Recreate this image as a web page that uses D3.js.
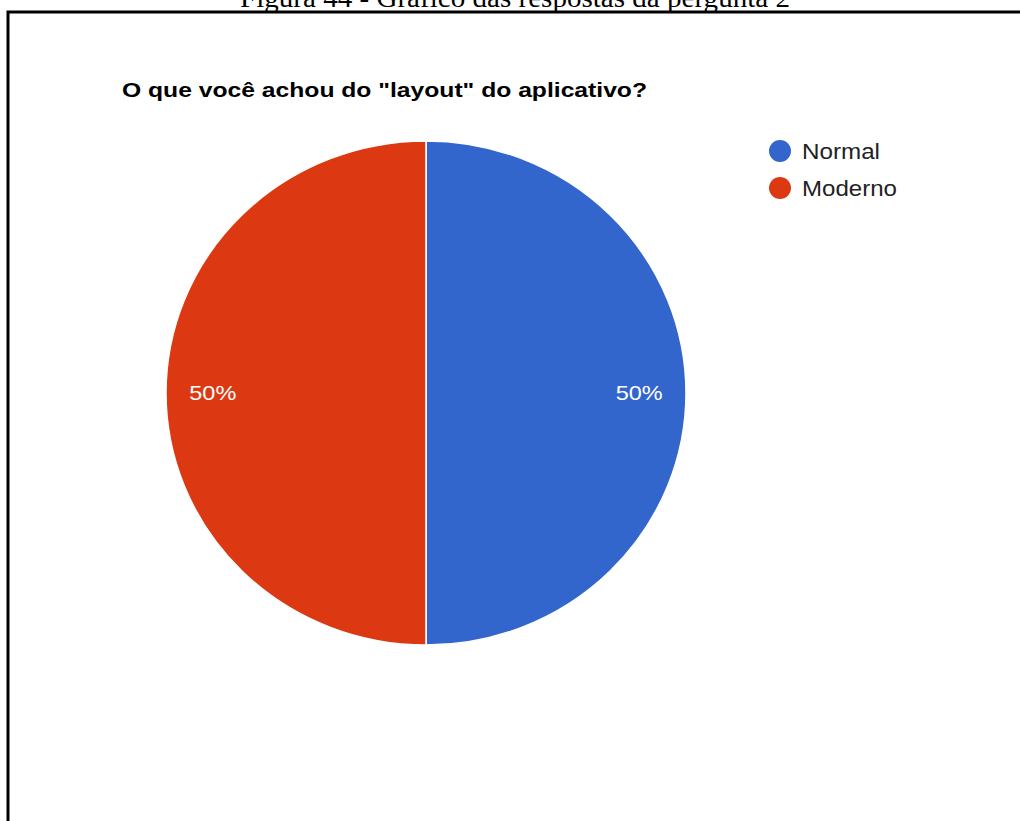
<!DOCTYPE html>
<html>
<head>
<meta charset="utf-8">
<script src="https://cdn.jsdelivr.net/npm/d3@7"></script>
<style>
  html, body { margin: 0; padding: 0; background: #fff; }
  svg { display: block; }
</style>
</head>
<body>
<svg id="chart" width="1020" height="821"></svg>
<script>
// Survey answers for question 2
const categories = ["Normal", "Moderno"];
const values = [50, 50];
const colors = ["#3366cc", "#dc3912"];
const legendWidths = [78, 95];
const caption = "Figura 44 - Gráfico das respostas da pergunta 2";
const title = "O que você achou do \"layout\" do aplicativo?";

const svg = d3.select("#chart");

// Figure caption (runs off the top of the page)
svg.append("text")
  .attr("x", 515).attr("y", 7)
  .attr("text-anchor", "middle")
  .attr("font-family", "Liberation Serif, Times New Roman, serif")
  .attr("font-size", 27)
  .attr("textLength", 550)
  .attr("lengthAdjust", "spacingAndGlyphs")
  .attr("fill", "#000")
  .text(caption);

// Figure frame
svg.append("path")
  .attr("d", "M8,830 V12 H1030")
  .attr("fill", "none")
  .attr("stroke", "#000")
  .attr("stroke-width", 3);

// Chart title
svg.append("text")
  .attr("x", 122).attr("y", 97)
  .attr("font-family", "Arial, Liberation Sans, sans-serif")
  .attr("font-weight", "bold")
  .attr("font-size", 21)
  .attr("textLength", 525)
  .attr("lengthAdjust", "spacingAndGlyphs")
  .attr("fill", "#000")
  .text(title);

// Pie
const cx = 426, cy = 393, rx = 260, ry = 252;
const pie = d3.pie().sort(null).startAngle(0).endAngle(2 * Math.PI);
const arcs = pie(values);
const arc = d3.arc().innerRadius(0).outerRadius(rx);
const labelArc = d3.arc().innerRadius(rx * 0.82).outerRadius(rx * 0.82);

const g = svg.append("g")
  .attr("transform", `translate(${cx},${cy}) scale(1,${ry / rx})`);

g.selectAll("path.slice")
  .data(arcs)
  .join("path")
  .attr("class", "slice")
  .attr("d", arc)
  .attr("fill", (d, i) => colors[i])
  .attr("stroke", "#fff")
  .attr("stroke-width", 1.5);

const total = d3.sum(values);
svg.selectAll("text.pct")
  .data(arcs)
  .join("text")
  .attr("class", "pct")
  .attr("x", d => cx + labelArc.centroid(d)[0] - 23.5)
  .attr("y", d => cy + labelArc.centroid(d)[1] * ry / rx)
  .attr("dy", "0.35em")
  .attr("font-family", "Arial, Liberation Sans, sans-serif")
  .attr("font-size", 21)
  .attr("textLength", 47)
  .attr("lengthAdjust", "spacingAndGlyphs")
  .attr("fill", "#fff")
  .text(d => Math.round(d.data / total * 100) + "%");

// Legend
const legend = svg.selectAll("g.legend")
  .data(categories)
  .join("g")
  .attr("class", "legend")
  .attr("transform", (d, i) => `translate(780,${151 + i * 37})`);

legend.append("circle")
  .attr("r", 11)
  .attr("fill", (d, i) => colors[i]);

legend.append("text")
  .attr("x", 22)
  .attr("dy", "0.35em")
  .attr("font-family", "Arial, Liberation Sans, sans-serif")
  .attr("font-size", 22)
  .attr("textLength", (d, i) => legendWidths[i])
  .attr("lengthAdjust", "spacingAndGlyphs")
  .attr("fill", "#222")
  .text(d => d);
</script>
</body>
</html>
